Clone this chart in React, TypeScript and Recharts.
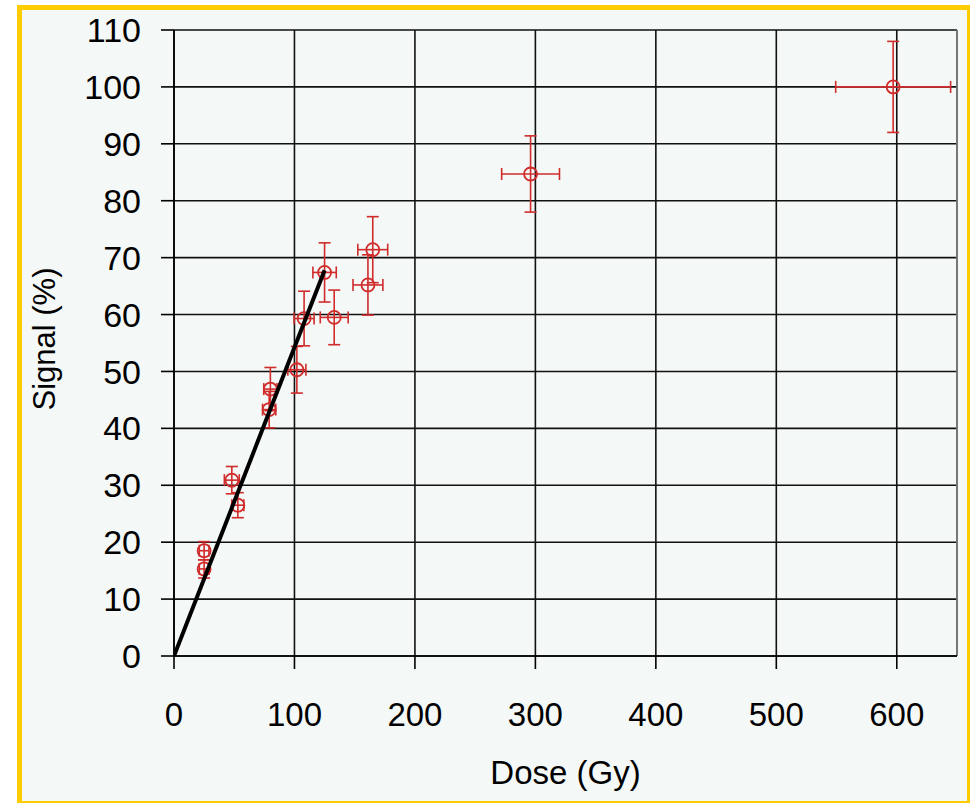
import React from 'react';
import { ScatterChart, Scatter, XAxis, YAxis, CartesianGrid, ErrorBar, ReferenceLine, Label } from 'recharts';

const doses = [25, 25, 48, 53, 79, 80, 102, 108, 125, 133, 161, 165, 296, 597];
const signals = [18.5, 15.3, 30.9, 26.5, 43.3, 46.9, 50.3, 59.3, 67.4, 59.5, 65.2, 71.4, 84.7, 100];
const doseErrors = [4, 4, 6.2, 5, 5.5, 5.5, 7.5, 8.3, 9.7, 11.6, 12.4, 12.4, 24, 47.7];
const signalErrors = [1.6, 1.6, 2.4, 2.2, 3.2, 3.8, 4.1, 4.8, 5.2, 4.8, 5.3, 5.8, 6.7, 8];
const fitDose = [0, 125];
const fitSignal = [0, 67.8];
const xTicks = [0, 100, 200, 300, 400, 500, 600];
const yTicks = [0, 10, 20, 30, 40, 50, 60, 70, 80, 90, 100, 110];

const points = doses.map((d, i) => ({ x: d, y: signals[i], xe: doseErrors[i], ye: signalErrors[i] }));
const fitLine = fitDose.map((d, i) => ({ x: d, y: fitSignal[i] }));

const RED = '#d02c2c';
const FONT = '"Liberation Sans", Arial, sans-serif';

const Marker = (p: any) => (
  <circle cx={p.cx} cy={p.cy} r={6.5} fill="none" stroke={RED} strokeWidth={1.8} />
);

export default function App() {
  return (
    <div style={{ position: 'absolute', left: 0, top: 0, width: 970, height: 803, background: '#ffffff' }}>
      <div
        style={{
          position: 'absolute',
          left: 17,
          top: 5,
          width: 953,
          height: 798,
          boxSizing: 'border-box',
          borderStyle: 'solid',
          borderColor: '#ffcc00',
          borderWidth: '5px 3px 2px 5px',
          background: '#f4f8f6',
        }}
      />
      <div style={{ position: 'absolute', left: 0, top: 0 }}>
        <ScatterChart width={970} height={803} margin={{ top: 30, right: 13, bottom: 17, left: 114 }}>
          <CartesianGrid stroke="#111" strokeWidth={1.6} />
          <XAxis
            type="number"
            dataKey="x"
            domain={[0, 650]}
            ticks={xTicks}
            allowDataOverflow
            height={130}
            tickSize={13}
            tickMargin={34}
            axisLine={{ stroke: '#000', strokeWidth: 1.6 }}
            tickLine={{ stroke: '#000', strokeWidth: 1.6 }}
            tick={{ fontSize: 33, fill: '#000', fontFamily: FONT }}
          >
            <Label
              content={(props: any) => {
                const vb = props.viewBox || { x: 174, width: 783 };
                return (
                  <text x={vb.x + vb.width / 2} y={784} textAnchor="middle" fontSize={33} fontFamily={FONT} fill="#000">
                    Dose (Gy)
                  </text>
                );
              }}
            />
          </XAxis>
          <YAxis
            type="number"
            dataKey="y"
            domain={[0, 110]}
            ticks={yTicks}
            allowDataOverflow
            width={60}
            tickSize={13}
            tickMargin={20}
            axisLine={{ stroke: '#000', strokeWidth: 1.6 }}
            tickLine={{ stroke: '#000', strokeWidth: 1.6 }}
            tick={{ fontSize: 34, fill: '#000', fontFamily: FONT }}
          >
            <Label
              content={(props: any) => {
                const vb = props.viewBox || { y: 30, height: 626 };
                const cy = vb.y + vb.height / 2 - 4;
                return (
                  <text
                    x={44}
                    y={cy}
                    transform={`rotate(-90 44 ${cy})`}
                    textAnchor="middle"
                    dominantBaseline="central"
                    fontSize={31}
                    fontFamily={FONT}
                    fill="#000"
                  >
                    Signal (%)
                  </text>
                );
              }}
            />
          </YAxis>
          <ReferenceLine x={650} stroke="#8a8a8a" strokeWidth={1.5} />
          <Scatter data={points} shape={Marker} isAnimationActive={false}>
            <ErrorBar dataKey="xe" direction="x" width={6} stroke={RED} strokeWidth={1.6} isAnimationActive={false} />
            <ErrorBar dataKey="ye" direction="y" width={6} stroke={RED} strokeWidth={1.6} isAnimationActive={false} />
          </Scatter>
          <Scatter
            data={fitLine}
            line={{ stroke: '#000', strokeWidth: 4 }}
            shape={() => <g />}
            isAnimationActive={false}
          />
        </ScatterChart>
      </div>
    </div>
  );
}
